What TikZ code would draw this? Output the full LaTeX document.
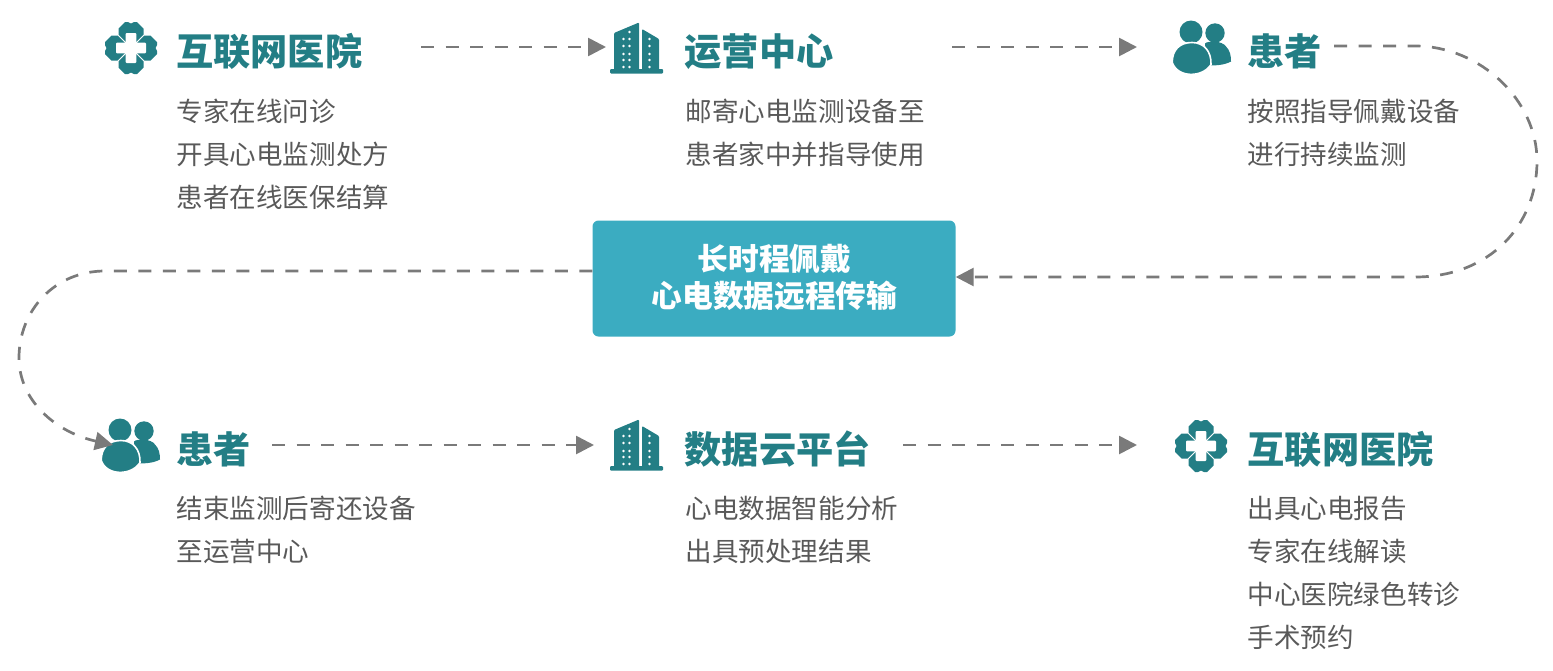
\documentclass[tikz,border=0pt]{standalone}
\usepackage{fontspec}
\setmainfont{Noto Sans CJK SC}
\usetikzlibrary{arrows.meta}
\definecolor{teal1}{HTML}{237E85}
\definecolor{boxc}{HTML}{3BACC1}
\definecolor{txt}{HTML}{595959}
\definecolor{arr}{HTML}{7A7A7A}
\tikzset{
  title/.style={anchor=base west,inner sep=0pt,text=teal1,font=\fontsize{37.2}{42}\selectfont\bfseries},
  body/.style={anchor=north west,inner sep=0pt,text=txt,align=left,font=\fontsize{26.55}{43}\selectfont},
  flow/.style={draw=arr,line width=2.7pt,dash pattern=on 13pt off 11.5pt,-{Triangle[length=18pt,width=18pt,fill=arr,sep=0pt]}},
  iconbox/.style={inner sep=0pt,minimum width=54pt,minimum height=52pt},
  centerbox/.style={fill=boxc,rounded corners=6pt,minimum width=363pt,minimum height=116pt,inner sep=0pt},
  centertext/.style={text=white,font=\fontsize{30.7}{37}\selectfont\bfseries,align=center},
}
\newcommand{\petal}{(0,-24.5) -- (-3,-26) -- (-6,-26) -- (-12.5,-19.5) -- (-12.5,-13.4) -- (-1,-1.9) -- (1,-1.9) -- (12.5,-13.4) -- (12.5,-19.5) -- (6,-26) -- (3,-26) -- cycle}
\newcommand{\hospitalicon}[1]{%
  \begin{scope}[shift={(#1.center)}]
    \foreach \a in {0,90,180,270}{\fill[teal1,rotate=\a] \petal;}
    \fill[white,rounded corners=1pt] (-5.3,-15) -- (5.3,-15) -- (5.3,-5.3) -- (15,-5.3) -- (15,5.3) -- (5.3,5.3) -- (5.3,15) -- (-5.3,15) -- (-5.3,5.3) -- (-15,5.3) -- (-15,-5.3) -- (-5.3,-5.3) -- cycle;
  \end{scope}}
\newcommand{\buildingicon}[1]{%
  \begin{scope}[shift={(#1.center)}]
    \fill[teal1,rounded corners=1pt] (-22.5,-15) -- (2.5,-25.5) -- (2.5,22) -- (-22.5,22) -- cycle;
    \fill[teal1,rounded corners=1pt] (5.5,-19) -- (22.5,-9) -- (22.5,22) -- (5.5,22) -- cycle;
    \fill[teal1,rounded corners=1pt] (-26.5,21) rectangle (26.5,25.5);
    \foreach \y in {-9,-2,6,12,19}{
      \fill[white] (-13,\y) circle (1.3);
      \fill[white] (-7,\y) circle (1.3);
      \fill[white] (13,\y) circle (1.3);}
    \fill[white] (-7,-16) circle (1.3);
  \end{scope}}
\newcommand{\peopleicon}[1]{%
  \begin{scope}[shift={(#1.center)}]
    \fill[teal1] (15,-14.5) circle (9.7);
    \fill[teal1] (5,-4) .. controls (8,-7) and (22,-7) .. (26,-1) .. controls (30,3) and (31,8) .. (31,14) .. controls (24,18) and (14,18) .. (7,18) -- cycle;
    \fill[teal1] (-9,-15.5) circle (11.5);
    \fill[teal1,draw=white,line width=1.6pt] (-27.8,15) .. controls (-27.8,2) and (-20,-5) .. (-8,-5) .. controls (4,-5) and (11.5,4) .. (11,17) .. controls (3,30) and (-22,31) .. (-27.8,15) -- cycle;
  \end{scope}}
\begin{document}
\begin{tikzpicture}[x=1pt,y=-1pt]
\useasboundingbox (0,0) rectangle (1553,670);
% icons
\node[iconbox] (h1) at (131,48) {};
\node[iconbox] (b1) at (636.5,48) {};
\node[iconbox] (p1) at (1200,47.5) {};
\node[iconbox] (p2) at (129,445.5) {};
\node[iconbox] (b2) at (636.5,445) {};
\node[iconbox] (h2) at (1201,446) {};
\hospitalicon{h1}\buildingicon{b1}\peopleicon{p1}\peopleicon{p2}\buildingicon{b2}\hospitalicon{h2}
% titles
\node[title] (t1) at (176,65) {互联网医院};
\node[title] (t2) at (684.5,65) {运营中心};
\node[title] (t3) at (1247.5,65) {患者};
\node[title] (t4) at (176,463) {患者};
\node[title] (t5) at (684.5,463) {数据云平台};
\node[title] (t6) at (1247.5,463) {互联网医院};
% bodies
\node[body] (d1) at (176.5,99) {专家在线问诊\\开具心电监测处方\\患者在线医保结算};
\node[body] (d2) at (685.5,99) {邮寄心电监测设备至\\患者家中并指导使用};
\node[body] (d3) at (1247.5,99) {按照指导佩戴设备\\进行持续监测};
\node[body] (d4) at (176.5,495.5) {结束监测后寄还设备\\至运营中心};
\node[body] (d5) at (685.5,495.5) {心电数据智能分析\\出具预处理结果};
\node[body] (d6) at (1247.5,495.5) {出具心电报告\\专家在线解读\\中心医院绿色转诊\\手术预约};
% centre
\node[centerbox] (c) at (774,278.5) {};
\node[centertext] (c1) at (774.5,259) {长时程佩戴};
\node[centertext] (c2) at (774.5,296) {心电数据远程传输};
% connectors
\coordinate (a1s) at (421,47);
\coordinate (a2s) at (952,47);
\coordinate (a3s) at (1334,46);
\coordinate (a5s) at (272,445);
\coordinate (a6s) at (903,445);
\coordinate (a1e) at (606,47);
\coordinate (a2e) at (1137,47);
\coordinate (a5e) at (594,445);
\coordinate (a6e) at (1137,445);
\coordinate (a4e) at (113,445);
\draw[flow] (a1s) -- (a1e);
\draw[flow] (a2s) -- (a2e);
\draw[flow] (a3s) -- (1415,46) .. controls (1480,46) and (1537,100) .. (1537,161) .. controls (1537,225) and (1490,277) .. (1415,277) -- (c.east |- 0,277);
\draw[flow] (c.west |- 0,271) -- (105,271) .. controls (55,271) and (19,310) .. (19,358) .. controls (19,400) and (55,432) .. (a4e);
\draw[flow] (a5s) -- (a5e);
\draw[flow] (a6s) -- (a6e);
\end{tikzpicture}
\end{document}
